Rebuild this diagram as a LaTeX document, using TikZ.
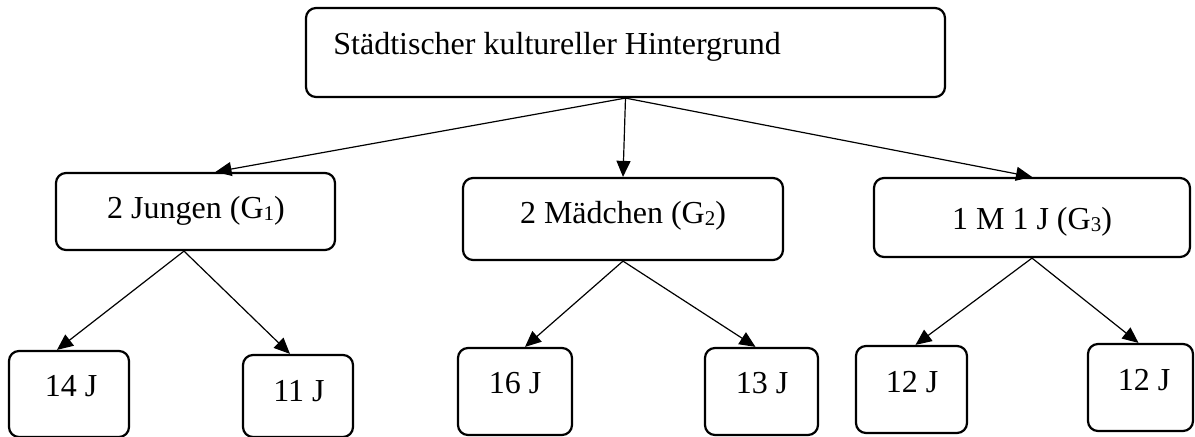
\documentclass[tikz,border=0pt]{standalone}
\usepackage{fontspec}
\setmainfont{Liberation Serif}
\usetikzlibrary{arrows.meta}
% group index, set small and only slightly lowered
\newcommand{\grpidx}[1]{\raisebox{-0.8pt}{\fontsize{10.5}{10.5}\selectfont #1}}
\begin{document}
\begin{tikzpicture}[x=0.5pt,y=-0.5pt,
  box/.style={draw, line width=1.1pt, rounded corners=5pt, inner sep=0pt},
  txt/.style={inner sep=0pt, font=\fontsize{16}{19}\selectfont},
  link/.style={line width=0.6pt, -{Triangle[length=8pt,width=7pt]}}]
\useasboundingbox (0,0) rectangle (1195,437);

% root
\node[box, minimum width=319.5pt, minimum height=44.5pt] (top) at (625.5,52.5) {};
\node[txt, anchor=base west] (toptext) at (333,55) {Städtischer kultureller Hintergrund};

% groups
\node[box, minimum width=139.5pt, minimum height=38.5pt] (g1) at (195.5,211.5) {};
\node[txt, anchor=base] (g1text) at (196,219) {2 Jungen (G\grpidx{1})};
\node[box, minimum width=160pt, minimum height=41pt] (g2) at (623,219) {};
\node[txt, anchor=base] (g2text) at (623,224) {2 Mädchen (G\grpidx{2})};
\node[box, minimum width=158pt, minimum height=39.5pt] (g3) at (1032,217.5) {};
\node[txt, anchor=base] (g3text) at (1032,230) {1 M 1 J (G\grpidx{3})};

% ages
\node[box, minimum width=60pt, minimum height=43pt] (b1) at (69,394) {};
\node[txt, anchor=base] (b1text) at (71,397) {14 J};
\node[box, minimum width=55pt, minimum height=41pt] (b2) at (298,396) {};
\node[txt, anchor=base] (b2text) at (299,402) {11 J};
\node[box, minimum width=57pt, minimum height=43.5pt] (b3) at (515,391.5) {};
\node[txt, anchor=base] (b3text) at (515,394) {16 J};
\node[box, minimum width=56.5pt, minimum height=43.5pt] (b4) at (761.5,391.5) {};
\node[txt, anchor=base] (b4text) at (762,394) {13 J};
\node[box, minimum width=55.5pt, minimum height=43.5pt] (b5) at (911.5,389.5) {};
\node[txt, anchor=base] (b5text) at (912,393) {12 J};
\node[box, minimum width=52.5pt, minimum height=43.5pt] (b6) at (1140.5,387.5) {};
\node[txt, anchor=base] (b6text) at (1144,391) {12 J};

% connectors
\draw[link] (top.south) -- ([xshift=10pt]g1.north);
\draw[link] (top.south) -- (g2.north);
\draw[link] (top.south) -- (g3.north);

\draw[link] ([xshift=-5.75pt]g1.south) -- ([xshift=-6pt]b1.north);
\draw[link] ([xshift=-5.75pt]g1.south) -- ([xshift=-4pt]b2.north);
\draw[link] (g2.south) -- ([xshift=5pt]b3.north);
\draw[link] (g2.south) -- ([xshift=-3pt]b4.north);
\draw[link] (g3.south) -- ([xshift=2pt]b5.north);
\draw[link] (g3.south) -- ([xshift=-1pt]b6.north);
\end{tikzpicture}
\end{document}
